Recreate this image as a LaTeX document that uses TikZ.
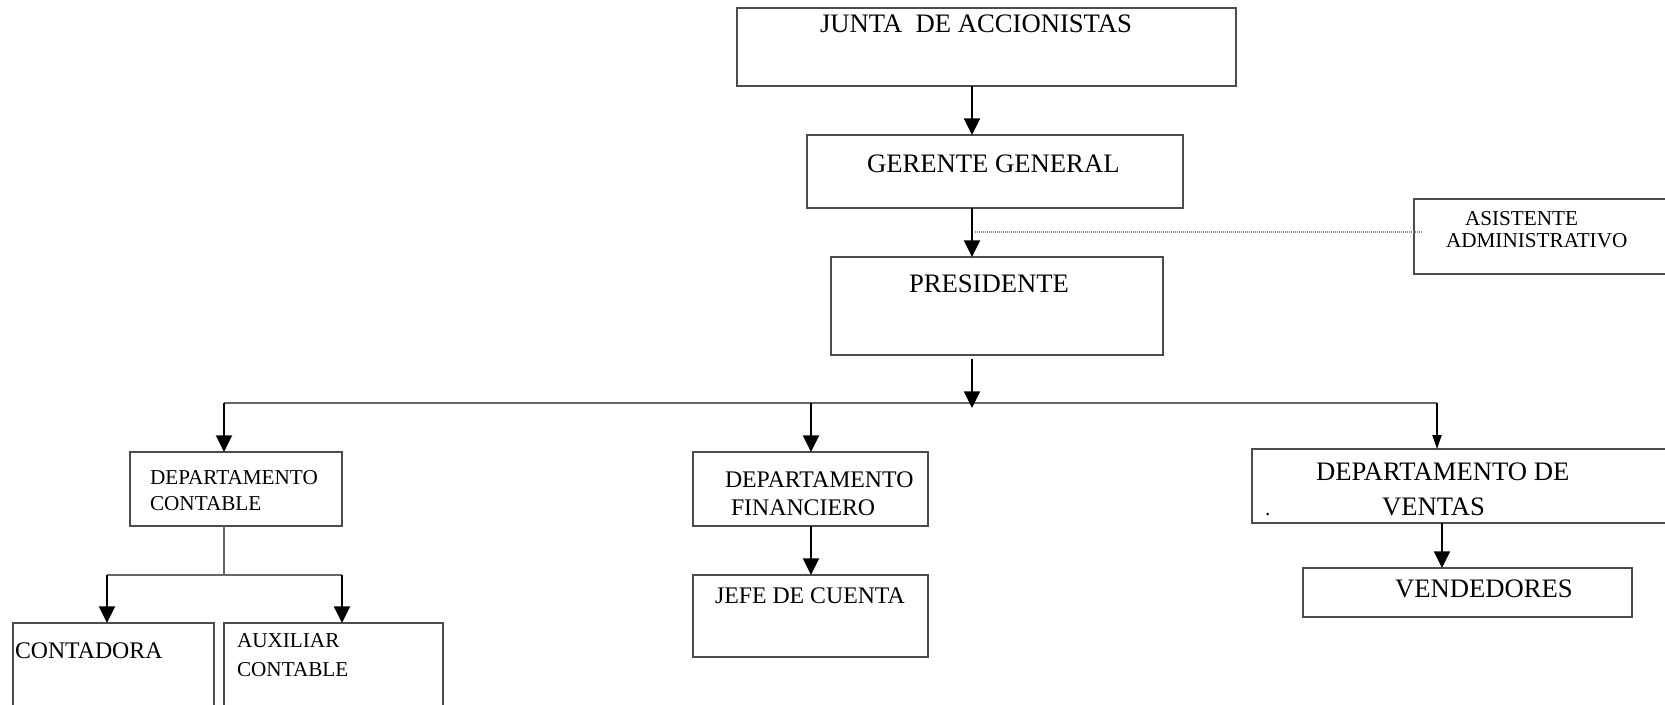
\documentclass[tikz,border=0pt]{standalone}
\usepackage{fontspec}
\setmainfont{Liberation Serif}
\usetikzlibrary{arrows.meta,fit}
\definecolor{boxgray}{gray}{0.3}
\definecolor{linegray}{gray}{0.4}
\definecolor{dotgray}{gray}{0.55}
\tikzset{
  box/.style={draw=boxgray, line width=1pt, inner sep=0pt, outer sep=0pt},
  txt/.style={inner sep=0pt, outer sep=0pt, anchor=base west, font=#1},
  arr/.style={draw=black, line width=1.5pt, -{Triangle[width=12pt,length=12.5pt]}},
  arrthin/.style={draw=black, line width=0.9pt, -{Triangle[width=7pt,length=10.5pt]}},
  conn/.style={draw=linegray, line width=1pt},
  dotline/.style={draw=dotgray, line width=0.8pt, dash pattern=on 0.75pt off 0.75pt},
}
\newcommand{\fbig}{\fontsize{20}{24}\selectfont}
\newcommand{\fmid}{\fontsize{17.85}{21}\selectfont}
\newcommand{\fsml}{\fontsize{15.9}{19}\selectfont}
\begin{document}
\begin{tikzpicture}[x=0.75pt,y=-0.75pt]
\useasboundingbox (0,0) rectangle (1665,705);
\clip (0,0) rectangle (1665,705);
\fill[white] (0,0) rectangle (1665,705);
% boxes
\node[box, fit={(737,8) (1236,86)}] (junta) {};
\node[box, fit={(807,135) (1183,208)}] (gerente) {};
\node[box, fit={(831,257) (1163,355)}] (presidente) {};
\node[box, fit={(1414,199) (1672,274)}] (asistente) {};
\node[box, fit={(130,452) (342,526)}] (contable) {};
\node[box, fit={(693,452) (928,526)}] (financiero) {};
\node[box, fit={(1252,449) (1672,523)}] (ventas) {};
\node[box, fit={(13,623) (214,712)}] (contadora) {};
\node[box, fit={(224,623) (443,712)}] (auxiliar) {};
\node[box, fit={(693,575) (928,657)}] (jefe) {};
\node[box, fit={(1303,568) (1632,617)}] (vendedores) {};
% texts
\node[txt=\fbig] (tjunta) at (820,33) {JUNTA\ \ DE ACCIONISTAS};
\node[txt=\fbig] (tgerente) at (867,173) {GERENTE GENERAL};
\node[txt=\fbig] (tpres) at (909,293) {PRESIDENTE};
\node[txt=\fsml] (tasis1) at (1465,226) {ASISTENTE};
\node[txt=\fsml] (tasis2) at (1446,248) {ADMINISTRATIVO};
\node[txt=\fsml] (tcont1) at (150,484) {DEPARTAMENTO};
\node[txt=\fsml] (tcont2) at (150,510) {CONTABLE};
\node[txt=\fmid] (tfin1) at (725,487) {DEPARTAMENTO};
\node[txt=\fmid] (tfin2) at (731,515) {FINANCIERO};
\node[txt=\fbig] (tven1) at (1316,480) {DEPARTAMENTO DE};
\node[txt=\fbig] (tven2) at (1382,515) {VENTAS};
\node[txt=\fsml] (tdot) at (1265,515) {.};
\node[txt=\fbig] (tvend) at (1395,597) {VENDEDORES};
\node[txt=\fmid] (tjefe) at (715,603) {JEFE DE CUENTA};
\node[txt=\fmid] (tconta) at (15,658) {CONTADORA};
\node[txt=\fsml] (taux1) at (237,647) {AUXILIAR};
\node[txt=\fsml] (taux2) at (237,676) {CONTABLE};
% coordinates
\coordinate (ax) at (972,0);
\coordinate (dl) at (975,232);
\coordinate (dlend) at ([xshift=6pt]asistente.west);
\coordinate (pS) at (972,359);
\coordinate (bP) at (972,408);
\coordinate (bL) at (224,403);
\coordinate (bM) at (811,403);
\coordinate (bR) at (1437,403);
\coordinate (cM) at (224,575);
\coordinate (cL) at (107,575);
\coordinate (cR) at (342,575);
\coordinate (vx) at (1442,0);
% connectors
\draw[arr] (junta.south -| ax) -- (gerente.north -| ax);
\draw[arr] (gerente.south -| ax) -- (presidente.north -| ax);
\draw[dotline] (dl) -- (dlend |- dl);
\draw[conn] (bL) -- (bR);
\draw[arr] (pS) -- (bP);
\draw[arr] (bL) -- (contable.north -| bL);
\draw[arr] (bM) -- (financiero.north -| bM);
\draw[arrthin] (bR) -- (ventas.north -| bR);
\draw[conn] (contable.south -| cM) -- (cM);
\draw[conn] (cL) -- (cR);
\draw[arr] (cL) -- (contadora.north -| cL);
\draw[arr] (cR) -- (auxiliar.north -| cR);
\draw[arr] (financiero.south -| bM) -- (jefe.north -| bM);
\draw[arr] (ventas.south -| vx) -- (vendedores.north -| vx);
\end{tikzpicture}
\end{document}
